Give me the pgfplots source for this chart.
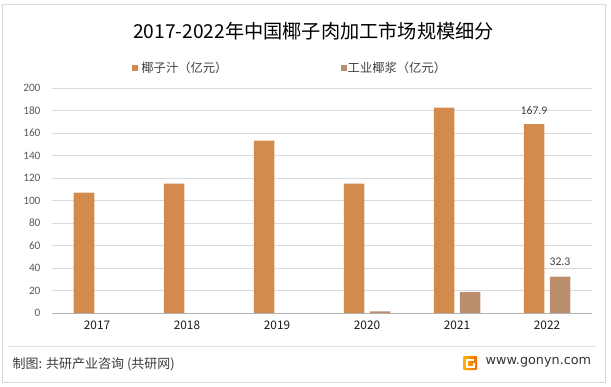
\documentclass[border=0pt]{standalone}
\usepackage{fontspec}
\setmainfont{Noto Sans CJK SC}
\newfontfamily\calf{Carlito}
\newfontfamily\dvf{DejaVu Sans}
\usepackage{pgfplots}
\pgfplotsset{compat=1.18}
\definecolor{cjuice}{HTML}{D38B4D}
\definecolor{cmilk}{HTML}{BB8E6E}
\definecolor{gridc}{HTML}{D9D9D9}
\definecolor{txt}{HTML}{404040}
\definecolor{tick}{HTML}{595959}
\begin{document}
\begin{tikzpicture}[x=1pt,y=1pt]
\useasboundingbox (0,0) rectangle (611,386);
\draw[gridc, line width=0.8pt] (2.5,4) rectangle (605.5,382);
% title
\node[font=\fontsize{19.2}{22}\selectfont, text=black] at (313.5,355) {2017-2022年中国椰子肉加工市场规模细分};
% legend
\fill[cjuice] (131.7,315.3) rectangle (137.7,321.3);
\node[anchor=west, inner sep=0pt, font=\fontsize{12.3}{14}\selectfont, text=txt] at (141.2,318.3) {椰子汁（亿元）};
\fill[cmilk] (340.5,315.3) rectangle (346.5,321.3);
\node[anchor=west, inner sep=0pt, font=\fontsize{12.3}{14}\selectfont, text=txt] at (347.5,318.3) {工业椰浆（亿元）};
\begin{axis}[
  at={(52pt,73pt)}, anchor=south west, scale only axis,
  width=540pt, height=225pt,
  xmin=-0.5, xmax=5.5, ymin=0, ymax=200,
  ytick={0,20,40,60,80,100,120,140,160,180,200},
  xtick={0,1,2,3,4,5},
  xticklabels={2017,2018,2019,2020,2021,2022},
  ymajorgrids, grid style={gridc, line width=0.8pt},
  axis x line*=bottom, axis y line*=left,
  y axis line style={draw=none},
  x axis line style={draw=gray!60, line width=0.8pt},
  major tick length=0pt,
  /pgf/number format/assume math mode=true,
  yticklabel style={font=\calf\fontsize{11.3}{13}\selectfont, text=tick, xshift=-8pt},
  xticklabel style={font=\fontsize{11.8}{13}\selectfont, text=black!90, yshift=-4pt},
  ybar, bar width=20.5pt,
  clip=false,
]
\addplot[fill=cjuice, draw=none, bar shift=-13pt] coordinates {(0,107.1) (1,115) (2,153.2) (3,115.1) (4,182.5) (5,167.9)};
\addplot[fill=cmilk, draw=none, bar shift=13pt] coordinates {(3,1.5) (4,18.6) (5,32.3)};
\node[font=\calf\fontsize{11.7}{13}\selectfont, text=txt] at ([xshift=-13pt,yshift=14pt]axis cs:5,167.9) {167.9};
\node[font=\calf\fontsize{11.7}{13}\selectfont, text=txt] at ([xshift=13pt,yshift=15pt]axis cs:5,32.3) {32.3};
\end{axis}
% footer
\draw[gridc!80, line width=0.8pt] (8,39.3) -- (596,39.3);
\node[anchor=west, inner sep=0pt, font=\fontsize{13}{15}\selectfont, text=txt!90!black] at (12.5,22) {制图: 共研产业咨询 (共研网)};
\shade[left color=orange!60!yellow, right color=orange!80!red, rounded corners=1pt] (463,16) rectangle (477,30);
\draw[white, line width=2pt] (474,26.5) -- (466.5,26.5) -- (466.5,19.5) -- (473.5,19.5) -- (473.5,23);
\node[anchor=west, inner sep=0pt, font=\dvf\fontsize{12.8}{15}\selectfont, text=txt!80!black] at (485.5,23.3) {www.gonyn.com};
\end{tikzpicture}
\end{document}
